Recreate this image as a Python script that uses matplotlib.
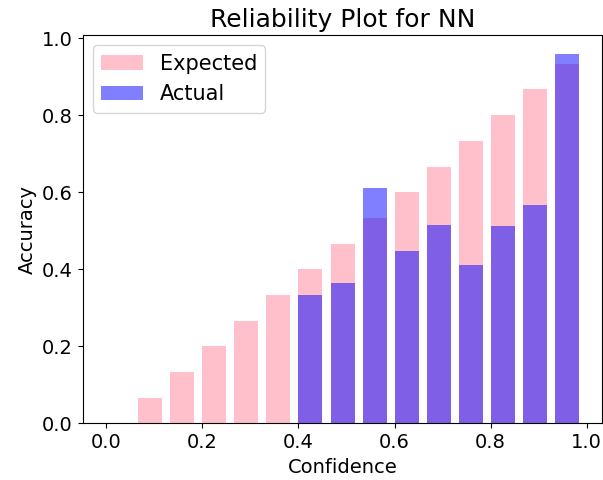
import matplotlib
matplotlib.use('Agg')
import matplotlib.pyplot as plt
import numpy as np

# 15 confidence bins, bar drawn at each bin's lower edge
bin_lowers = [0.0, 0.0667, 0.1333, 0.2, 0.2667, 0.3333, 0.4, 0.4667,
              0.5333, 0.6, 0.6667, 0.7333, 0.8, 0.8667, 0.9333]
expected = bin_lowers
actual = [0.0, 0.0, 0.0, 0.0, 0.0, 0.0, 0.333, 0.364,
          0.611, 0.448, 0.516, 0.412, 0.512, 0.568, 0.96]

plt.rcParams['font.size'] = 14

fig, ax = plt.subplots(figsize=(6.03, 4.8), dpi=100)
ax.bar(bin_lowers, expected, width=0.05, align='edge', color='pink', label='Expected')
ax.bar(bin_lowers, actual, width=0.05, align='edge', color='blue', alpha=0.5, label='Actual')
ax.set_xlabel('Confidence')
ax.set_ylabel('Accuracy')
ax.set_title('Reliability Plot for NN', fontsize=18)
ax.legend(loc='upper left', fontsize=15)

plt.subplots_adjust(left=0.137, right=0.999, bottom=0.118, top=0.927)
plt.savefig('out.png')
